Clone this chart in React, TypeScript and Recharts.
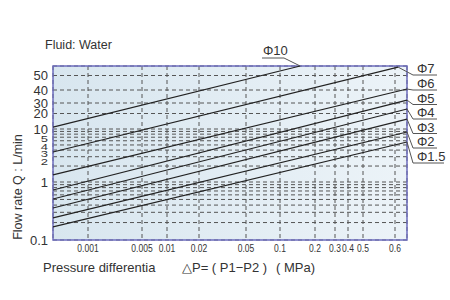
import React from 'react';
import { LineChart, Line, XAxis, YAxis, CartesianGrid, ReferenceArea, Customized } from 'recharts';

// axis calibration: value -> position inside the plot area (0 = left / bottom edge)
const pressureKnots: [number, number][] = [
  [0.00036, 0], [0.001, 35], [0.005, 89], [0.01, 114], [0.02, 146], [0.05, 193],
  [0.1, 227], [0.2, 262], [0.3, 282], [0.4, 295], [0.5, 310], [0.6, 342], [0.64, 354],
];
const flowKnots: [number, number][] = [
  [0.1, 0], [1, 58], [10, 111], [20, 126.5], [30, 137], [40, 150], [50, 164.5], [58, 174],
];

const pressureTicks = [0.001, 0.005, 0.01, 0.02, 0.05, 0.1, 0.2, 0.3, 0.4, 0.5, 0.6];
const flowLabels = [0.1, 1, 2, 3, 4, 5, 10, 20, 30, 40, 50];
const flowGrid = [
  0.1, 0.2, 0.3, 0.4, 0.5, 0.6, 0.7, 0.8, 0.9,
  1, 2, 3, 4, 5, 6, 7, 8, 9, 10, 20, 30, 40, 50,
];
// the crowded 2..5 labels sit a little higher than their grid lines and are squeezed
const labelShift: Record<string, number> = { '5': -6, '4': -3, '3': -3, '2': -4 };

// orifice sizes, each drawn as a straight line between two points
const sizes = ['Φ10', 'Φ7', 'Φ6', 'Φ5', 'Φ4', 'Φ3', 'Φ2', 'Φ1.5'];
const startP = [0.00036, 0.00036, 0.00036, 0.00036, 0.00036, 0.00036, 0.00036, 0.00036];
const startQ = [10.9, 3.68, 1.36, 0.728, 0.509, 0.356, 0.24, 0.168];
const endP = [0.149, 0.61, 0.64, 0.64, 0.64, 0.64, 0.64, 0.64];
const endQ = [58, 57, 40.6, 32.0, 23.8, 15.6, 8.78, 5.69];

const warp = (knots: [number, number][], v: number) => {
  let i = 0;
  while (i < knots.length - 2 && v > knots[i + 1][0]) i++;
  const [v0, p0] = knots[i];
  const [v1, p1] = knots[i + 1];
  const t = (Math.log10(v) - Math.log10(v0)) / (Math.log10(v1) - Math.log10(v0));
  return p0 + t * (p1 - p0);
};
const px = (v: number) => warp(pressureKnots, v);
const py = (v: number) => warp(flowKnots, v);

const xTickMap = new Map(pressureTicks.map((v) => [px(v).toFixed(2), String(v)]));
const yTickMap = new Map(flowLabels.map((v) => [py(v).toFixed(2), String(v)]));

const series = sizes.map((name, i) => ({
  name,
  data: [
    { p: px(startP[i]), q: py(startQ[i]) },
    { p: px(endP[i]), q: py(endQ[i]) },
  ],
}));

const textColor = '#333';
const font = "'Liberation Sans', Arial, sans-serif";

// callout rows on the right edge (underline y)
const calloutY = [75, 90, 104.5, 119, 133.5, 148, 163];

const Callout = (idx: number) => (props: any) => {
  const { x, y, index } = props;
  if (index !== 1) return <g />;
  if (idx === 0) {
    return (
      <g>
        <path d={`M${x} ${y} L284 58 L262 58`} stroke="#555" fill="none" strokeWidth={1} />
        <text x={263} y={55} fontSize={13} fill={textColor} fontFamily={font}>{sizes[0]}</text>
      </g>
    );
  }
  const uy = calloutY[idx - 1];
  return (
    <g>
      <path d={`M${x} ${y} L413 ${uy} L${idx === 7 ? 444 : 437} ${uy}`} stroke="#555" fill="none" strokeWidth={1} />
      <text x={417} y={uy - 2} fontSize={13} fill={textColor} fontFamily={font}>{sizes[idx]}</text>
    </g>
  );
};

const FlowTick = (props: any) => {
  const { x, y, payload } = props;
  const label = yTickMap.get(Number(payload.value).toFixed(2));
  if (!label) return <g />;
  const shift = labelShift[label];
  const sy = shift === undefined ? 1 : 0.72;
  return (
    <text
      transform={`translate(${x + 3} ${y + (shift ?? 0)}) scale(1 ${sy})`}
      dy="0.36em"
      textAnchor="end"
      fontSize={13}
      fill={textColor}
      fontFamily={font}
    >
      {label}
    </text>
  );
};

// pressure labels use a condensed face
const PressureTick = (props: any) => {
  const { x, y, payload } = props;
  const label = xTickMap.get(Number(payload.value).toFixed(2));
  if (!label) return <g />;
  return (
    <text transform={`translate(${x} ${y}) scale(0.74 1)`} dy="0.71em" textAnchor="middle" fontSize={11.5} fill={textColor} fontFamily={font}>
      {label}
    </text>
  );
};

const Titles = () => (
  <g fontFamily={font} fill={textColor} fontSize={12.5}>
    <text x={45} y={49}>Fluid: Water</text>
    <text x={18} y={187} transform="rotate(-90 18 187)" textAnchor="middle" dominantBaseline="central">
      Flow rate Q : L/min
    </text>
    <text y={272} fontSize={13}>
      <tspan x={43}>Pressure differentia</tspan>
      <tspan x={182}>△P= ( P1−P2 )</tspan>
      <tspan x={276}>( MPa)</tspan>
    </text>
  </g>
);

const App = () => {
  return (
    <div style={{ position: 'absolute', left: 0, top: 0, width: 450, height: 300, overflow: 'hidden' }}>
      <LineChart width={450} height={300} margin={{ top: 66, right: 43, bottom: 40, left: 13 }}>
        <defs>
          <linearGradient id="plotBg" x1="0" y1="0" x2="1" y2="0">
            <stop offset="0%" stopColor="#d8e6ef" />
            <stop offset="100%" stopColor="#ecf3f8" />
          </linearGradient>
        </defs>
        <CartesianGrid fill="url(#plotBg)" stroke="#555" strokeDasharray="4 3" />
        <XAxis
          type="number"
          dataKey="p"
          domain={[0, 354]}
          ticks={pressureTicks.map(px)}
          tick={PressureTick}
          interval={0}
          axisLine={false}
          tickLine={false}
          tickSize={2}
          tickMargin={2}
          height={20}
        />
        <YAxis
          type="number"
          domain={[0, 174]}
          ticks={flowGrid.map(py)}
          tick={FlowTick}
          axisLine={false}
          tickLine={false}
          width={40}
          interval={0}
        />
        <ReferenceArea x1={0} x2={354} y1={0} y2={174} fill="none" stroke="#6c6cbd" strokeWidth={1.5} />
        {series.map((s, i) => (
          <Line
            key={s.name}
            data={s.data}
            dataKey="q"
            name={s.name}
            stroke="#222"
            strokeWidth={1.2}
            dot={false}
            isAnimationActive={false}
            label={Callout(i)}
          />
        ))}
        <Customized component={Titles} />
      </LineChart>
    </div>
  );
};

export default App;
